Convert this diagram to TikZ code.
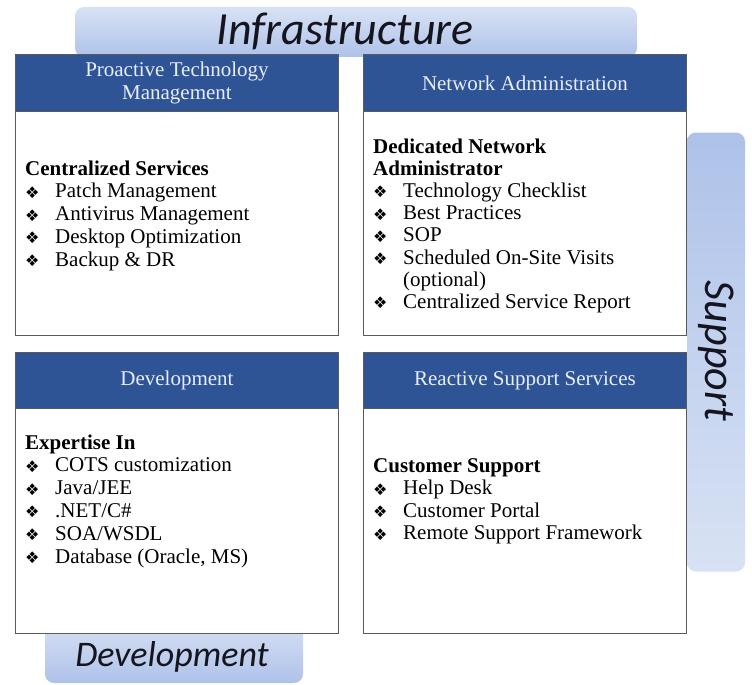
\documentclass[tikz,border=0pt]{standalone}
\usepackage{fontspec}
\setmainfont{Liberation Serif}
\newfontfamily\tabfont{Carlito}
\newfontfamily\dingfont{DejaVu Sans}
\usetikzlibrary{positioning}

\definecolor{headblue}{HTML}{2F5496}
\definecolor{headink}{HTML}{E8EEF8}
\definecolor{tabtop}{HTML}{D8E2F4}
\definecolor{tabbottom}{HTML}{AEC2E9}
\definecolor{tabink}{HTML}{15151F}
\definecolor{framegray}{HTML}{5A5A5A}

% bullet with a fixed indent
\newcommand{\bul}{\makebox[30pt][l]{\raisebox{-0.5pt}{\dingfont\fontsize{16}{16}\selectfont ❖}}}

\begin{document}
\begin{tikzpicture}[x=1pt, y=-1pt,
    banner/.style={rounded corners=9pt, inner sep=0pt},                  % light blue tabs behind the boxes
    tabtext/.style={font=\tabfont\itshape\fontsize{46}{46}\selectfont, text=tabink, inner sep=0pt},
    frame/.style={draw=framegray, line width=0.9pt, fill=white, anchor=north west,
                  minimum width=323pt, minimum height=281pt, inner sep=0pt}, % white body of a box
    head/.style={frame, fill=headblue, text=headink, align=center,
                 minimum height=57pt, font=\fontsize{21}{23}\selectfont},  % dark blue title bar
    line/.style={anchor=base west, inner sep=0pt, font=\fontsize{21}{23}\selectfont},
    lead/.style={line, font=\bfseries\fontsize{21}{23}\selectfont}
    ]
    \useasboundingbox (0,0) rectangle (752,685);

    % Tabs behind the four boxes
    \node[banner, minimum width=562pt, minimum height=50pt,
          top color=tabtop, bottom color=tabbottom] (infra) at (356,32) {};
    \node[banner, rotate=-90, minimum width=439pt, minimum height=58pt,
          top color=tabbottom, bottom color=tabtop] (support) at (716,352) {};
    \node[banner, minimum width=258pt, minimum height=64pt,
          top color=tabtop, bottom color=tabbottom] (devtab) at (174,651) {};

    \node[tabtext] (infra-t) at (345,31) {Infrastructure};
    \node[tabtext, font=\tabfont\itshape\fontsize{44}{44}\selectfont, rotate=-90] (support-t) at (716,351) {Support};
    \node[tabtext, font=\tabfont\itshape\fontsize{36}{36}\selectfont] (devtab-t) at (172,657) {Development};

    % Box frames and title bars
    \node[frame] (ptm) at (15,54) {};
    \node[head] (ptm-h) at (15,54) {Proactive Technology\\Management};
    \node[frame] (net) at (363,54) {};
    \node[head] (net-h) at (363,54) {Network Administration};
    \node[frame] (dev) at (15,352) {};
    \node[head, minimum height=56pt] (dev-h) at (15,352) {Development};
    \node[frame] (rss) at (363,352) {};
    \node[head, minimum height=56pt] (rss-h) at (363,352) {Reactive Support Services};

    % Proactive Technology Management
    \node[lead] (ptm-0) at (25,175) {Centralized Services};
    \foreach \t [count=\i] in {Patch Management, Antivirus Management,
                              Desktop Optimization, Backup \& DR}
        \node[line] (ptm-\i) at (25,175+\i*22.8) {\bul\t};

    % Network Administration
    \node[lead] (net-0) at (373,153) {Dedicated Network};
    \node[lead] (net-00) at (373,175) {Administrator};
    \foreach \t [count=\i] in {Technology Checklist, Best Practices, SOP,
                              Scheduled On-Site Visits}
        \node[line] (net-\i) at (373,175+\i*22.3) {\bul\t};
    \node[line] (net-5) at (373,286) {\hspace*{30pt}(optional)};
    \node[line] (net-6) at (373,308) {\bul Centralized Service Report};

    % Development
    \node[lead] (dev-0) at (25,449) {Expertise In};
    \foreach \t [count=\i] in {COTS customization, Java/JEE, .NET/C\#,
                              SOA/WSDL, {Database (Oracle, MS)}}
        \node[line] (dev-\i) at (25,449+\i*22.8) {\bul\t};

    % Reactive Support Services
    \node[lead] (rss-0) at (373,472) {Customer Support};
    \foreach \t [count=\i] in {Help Desk, Customer Portal, Remote Support Framework}
        \node[line] (rss-\i) at (373,472+\i*22.5) {\bul\t};

\end{tikzpicture}
\end{document}
